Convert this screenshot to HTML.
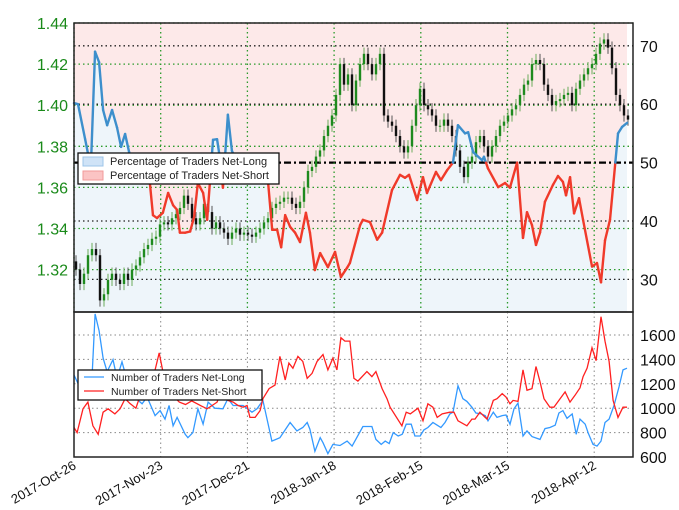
<!DOCTYPE html>
<html><head><meta charset="utf-8">
<style>
body{margin:0;background:#fff;}
svg{display:block;font-family:"Liberation Sans",sans-serif;}
</style></head>
<body>
<svg id="c" width="679" height="510" viewBox="0 0 679 510" xmlns="http://www.w3.org/2000/svg"></svg>
<script>
const pctDays=[0,1.3,3.6,4.5,5.5,6.8,8.1,9.4,10.7,12.3,13.9,15.2,16.5,17.8,19.7,22,24.5,25.5,26.8,28.7,30.4,32,33.3,34.2,35.9,37.5,38.8,40,41.7,43,44.9,46.2,47.2,48.1,49.7,51,53.6,56.8,60,62.7,64,65.6,66.9,68.2,69.8,71.4,73,74.9,76.2,77.8,79.5,82,84.3,86.2,88.2,89.1,92.4,93.3,95.6,97.9,99.5,102.7,105.3,106.9,108.2,110.8,112.7,114,116.9,118.5,120.5,122.4,124,126.3,127.3,128.9,131.8,132.4,133.7,137,139.2,140.8,143.1,145,146.3,147.9,149.2,150.5,152.1,154.7,156.3,157.9,158.9,160.2,161.5,163.1,164.4,167.3,168.9,170.2,171.5,173.1,175.7,177,178.6];
const pctLong=[60.2,60,54,51.6,50,69,67.2,59,56.4,59,56,52.7,54.9,51.8,49,48,46.5,41,40.5,41.4,44.8,42.7,41.9,38,38,38.2,40.7,46.5,44.8,40.2,53.9,54,50.5,45.7,58.2,52,49,47.5,48,46.5,38.5,38.5,35.5,41,39,38,36.4,41.4,38,31.6,34.5,32.1,34.7,30.4,32,32.8,39.3,40.2,39.8,36.8,38,45.3,47.9,47.4,47.9,43.6,47.5,44.8,48.4,47,48.7,50,56.4,55,55.2,51.8,50.4,51,49,45.8,46.5,45.7,50,37.1,41.5,39.3,35.9,38,43.3,46.2,47.7,46.7,44.4,47.5,41.3,43.9,40.2,32.2,32.8,29.5,36.7,40.2,55,56.1,56.8];
const closes=[1.32,1.313,1.318,1.327,1.33,1.327,1.305,1.308,1.315,1.318,1.315,1.313,1.318,1.315,1.32,1.322,1.326,1.33,1.332,1.335,1.336,1.342,1.343,1.342,1.345,1.347,1.35,1.356,1.352,1.345,1.342,1.345,1.352,1.348,1.34,1.343,1.34,1.338,1.335,1.338,1.34,1.337,1.338,1.337,1.336,1.338,1.34,1.343,1.345,1.35,1.352,1.353,1.355,1.355,1.352,1.35,1.353,1.36,1.368,1.37,1.375,1.378,1.385,1.39,1.395,1.405,1.42,1.41,1.415,1.40,1.412,1.42,1.425,1.42,1.415,1.42,1.425,1.395,1.392,1.39,1.385,1.38,1.377,1.38,1.39,1.40,1.408,1.40,1.398,1.395,1.39,1.39,1.393,1.39,1.385,1.378,1.37,1.365,1.372,1.375,1.382,1.385,1.38,1.375,1.38,1.385,1.39,1.392,1.395,1.398,1.40,1.405,1.41,1.412,1.42,1.422,1.42,1.41,1.405,1.40,1.402,1.403,1.405,1.406,1.40,1.408,1.412,1.415,1.418,1.42,1.425,1.43,1.432,1.428,1.418,1.405,1.40,1.395,1.393];
const longDays=[0,1.3,3.6,5.5,6.8,8.1,9.4,10.7,12.6,13.9,15.5,18,20,22,23.6,26.2,27.8,29.4,30.7,32,33.3,35.9,36.8,38.4,40,41.7,43.3,45.5,48.1,49.7,51.4,54.6,57.5,59.1,61,63.9,66.5,69.8,72,73.9,75.3,76.2,77.8,79.5,80.4,82,83.6,85.9,88.2,89.8,93.3,96.2,97.5,99.2,100.5,101.8,103.1,104.7,106,107.3,108.9,110.1,111.8,113,114.3,115.9,117.3,118.5,119.8,121.4,122.4,124,125.6,126.9,128.5,129.8,131.5,132.8,133.7,135.4,136.6,138.3,139.5,140.8,142.1,143.4,145,146.3,147.9,150.5,152.1,153.7,155.4,156.6,157.9,159.2,160.9,162.2,163.4,165.1,166.1,167.6,168.9,170.2,171.5,172.8,174.4,176,177.3,178.6];
const longCount=[1272,1203,1092,1080,1773,1634,1411,1300,1398,1245,1380,1150,1080,1036,1092,939,980,911,1022,856,925,786,758,800,995,870,1050,1000,995,1078,1022,1022,967,995,1064,730,758,883,814,842,883,828,647,758,717,628,703,694,730,689,850,850,744,703,730,711,800,772,786,869,869,772,772,822,842,883,861,842,883,953,967,1184,1078,1056,1008,961,953,939,897,967,925,939,944,869,995,1042,772,814,767,744,833,842,861,961,980,917,953,786,911,869,794,703,689,730,883,911,1022,1175,1314,1328];
const shortDays=[0,1,2.9,4.5,6.1,7.8,9.4,11,13.2,14.9,16.5,18,20,22,26.2,27.5,28.7,30,32,34,36,38,41,43,44.6,46.2,47.2,49.7,51.4,53,54.6,55.9,56.8,58.5,60.1,61,63,64.9,66.5,68.2,69.4,70.7,72.3,73.9,75.3,76.9,78.5,80.4,82,83.6,84.9,86.2,87.5,89.1,90.4,91.7,94.6,96.2,97.5,99.5,101.1,102.1,105.9,107.3,108.6,111.1,112.7,114.3,115.9,117.3,118.9,121.4,122.7,124,126.9,128.5,129.5,131.1,132.8,133.4,135.4,136.6,138.3,139.5,140.8,141.8,143.4,145,146.3,147.9,149.2,150.5,151.8,153.7,155,156.6,158.6,160.2,161.8,163.4,164.4,165.7,167.3,168.6,170.2,171.5,172.8,174.1,175.7,177.3,178.6];
const shortCount=[842,800,995,1050,856,786,967,995,953,995,1078,1040,1000,1150,1314,1453,1300,1200,1100,1050,1030,1060,1020,995,1022,1050,1120,1064,1050,1022,1008,1022,925,925,980,1078,1161,1189,1425,1231,1370,1328,1425,1384,1245,1286,1384,1439,1314,1411,1314,1578,1550,1550,1245,1222,1300,1259,1300,1161,1078,1008,856,967,953,1000,897,1036,1008,925,953,967,967,897,856,911,911,967,925,911,1064,1078,1120,1092,1036,1064,1056,1314,1147,1161,1342,1217,1078,1008,1008,1064,1134,1050,1106,1167,1259,1328,1495,1389,1750,1550,1384,1064,925,1008,1008];
const dateTicks=["2017-Oct-26","2017-Nov-23","2017-Dec-21","2018-Jan-18","2018-Feb-15","2018-Mar-15","2018-Apr-12"];
const dateTickDays=[0,28,56,84,112,140,168];
const priceTicks=[1.32,1.34,1.36,1.38,1.40,1.42,1.44];
const pctTicks=[30,40,50,60,70];
const countTicks=[600,800,1000,1200,1400,1600];

const L=74,R=633,T1=23,B1=312,T2=312,B2=457;
const xD=d=>L+d*86.7/28;
const yP=p=>T1+(1.44-p)/0.02*41.1;
const yPct=v=>162.6-(v-50)*5.84;
const yC=c=>457-(c-600)/200*24.4;
const svg=document.getElementById('c');
const NS='http://www.w3.org/2000/svg';
function mk(tag,attrs,parent){const e=document.createElementNS(NS,tag);for(const k in attrs)e.setAttribute(k,attrs[k]);(parent||svg).appendChild(e);return e;}

const topG=mk('g',{});


mk('rect',{x:L,y:T1,width:R-L,height:B1-T1,fill:'#fde9e9'},topG);
const pts=pctDays.map((d,i)=>[xD(d),yPct(pctLong[i])]);
const lineStr=pts.map(p=>p[0].toFixed(1)+','+p[1].toFixed(1)).join(' ');
const lastX=xD(pctDays[pctDays.length-1]);
const blueFill=mk('polygon',{points:L+','+B1+' '+lineStr+' '+lastX+','+B1,fill:'#eef5fa'},topG);


mk('rect',{x:lastX,y:T1,width:R-lastX,height:B1-T1,fill:'#fff'},topG);
priceTicks.forEach(p=>{mk('line',{x1:L,x2:R,y1:yP(p),y2:yP(p),stroke:'#2a9a2a','stroke-width':1.3,'stroke-dasharray':'1.5,3'},topG);
 const tx=mk('text',{x:68,y:yP(p)+6,'text-anchor':'end','font-size':16,fill:'#1a8a1a'},topG);tx.textContent=p.toFixed(2);
 
 });
pctTicks.forEach(v=>{if(v===50){mk('line',{x1:L,x2:R,y1:yPct(v),y2:yPct(v),stroke:'#000','stroke-width':2.2,'stroke-dasharray':'7,3,2,3'},topG);}
 else mk('line',{x1:L,x2:R,y1:yPct(v),y2:yPct(v),stroke:'#222','stroke-width':1.3,'stroke-dasharray':'1.5,3'},topG);
 const tx=mk('text',{x:640,y:yPct(v)+6,'font-size':16,fill:'#111'},topG);tx.textContent=v;
 
 });
dateTickDays.forEach(d=>{mk('line',{x1:xD(d),x2:xD(d),y1:T1,y2:B1,stroke:'#2a9a2a','stroke-width':1.3,'stroke-dasharray':'1.5,3'},topG);});
const cg=mk('g',{},topG);


const step=556/closes.length;
closes.forEach((c,i)=>{const o=i?closes[i-1]:c+0.004;const up=c>=o;const col=up?'#1e8a1e':'#111';
 const x=76+i*step;const hi=Math.max(o,c)+0.003,lo=Math.min(o,c)-0.003;
 mk('line',{x1:x,x2:x,y1:yP(hi),y2:yP(lo),stroke:up?'#6aaa5a':'#555','stroke-width':1},cg);
 const b=mk('rect',{x:x-1.2,y:yP(Math.max(o,c)),width:2.4,height:Math.max(1,Math.abs(yP(o)-yP(c))),fill:col},cg);
 
 });
const lg=mk('g',{},topG);


function seg(x1,y1,x2,y2,blue){mk('line',{x1:x1,y1:y1,x2:x2,y2:y2,stroke:blue?'#3d8fcc':'#f03a2a','stroke-width':2.4,'stroke-linecap':'round'},lg);}
for(let i=0;i<pts.length-1;i++){const a=pctLong[i],b=pctLong[i+1];
 if((a>=50)===(b>=50))seg(pts[i][0],pts[i][1],pts[i+1][0],pts[i+1][1],a>=50);
 else{const f=(50-a)/(b-a);const xm=pts[i][0]+f*(pts[i+1][0]-pts[i][0]);const ym=yPct(50);
  seg(pts[i][0],pts[i][1],xm,ym,a>=50);seg(xm,ym,pts[i+1][0],pts[i+1][1],b>=50);}}
mk('rect',{x:L,y:T1,width:R-L,height:B1-T1,fill:'none',stroke:'#222','stroke-width':1.5},topG);
const leg=mk('g',{},topG);


mk('rect',{x:78,y:153,width:201,height:31,fill:'#fff',stroke:'#111','stroke-width':1.3},leg);
mk('rect',{x:83,y:157,width:20,height:9,fill:'#cfe3f7',stroke:'#9cc4ea'},leg);
mk('rect',{x:83,y:171,width:20,height:9,fill:'#fbc4c4',stroke:'#f29a9a'},leg);
let tl=mk('text',{x:110,y:165,'font-size':11,fill:'#222'},leg);tl.textContent='Percentage of Traders Net-Long';
tl=mk('text',{x:110,y:179,'font-size':11,fill:'#222'},leg);tl.textContent='Percentage of Traders Net-Short';

const bot=mk('g',{});


countTicks.forEach(c=>{if(c>600)mk('line',{x1:L,x2:R,y1:yC(c),y2:yC(c),stroke:'#888','stroke-width':1,'stroke-dasharray':'1.5,3'},bot);
 const tx=mk('text',{x:640,y:yC(c)+6,'font-size':16,fill:'#111'},bot);tx.textContent=c;
 
 });
dateTickDays.forEach((d,i)=>{mk('line',{x1:xD(d),x2:xD(d),y1:T2,y2:B2,stroke:'#888','stroke-width':1,'stroke-dasharray':'1.5,3'},bot);
 const tx=mk('text',{x:xD(d)+3,y:468,'text-anchor':'end','font-size':13,fill:'#111',transform:'rotate(-30 '+(xD(d)+3)+' 468)'},bot);tx.textContent=dateTicks[i];
 
 });
const lp=mk('polyline',{points:longDays.map((d,i)=>xD(d).toFixed(1)+','+yC(longCount[i]).toFixed(1)).join(' '),fill:'none',stroke:'#3399ff','stroke-width':1.3},bot);


const sp=mk('polyline',{points:shortDays.map((d,i)=>xD(d).toFixed(1)+','+yC(shortCount[i]).toFixed(1)).join(' '),fill:'none',stroke:'#ff2020','stroke-width':1.3},bot);


mk('rect',{x:L,y:T2,width:R-L,height:B2-T2,fill:'none',stroke:'#222','stroke-width':1.5},bot);
const leg2=mk('g',{},bot);


mk('rect',{x:78,y:370,width:184,height:30,fill:'#fff',stroke:'#111','stroke-width':1.3},leg2);
mk('line',{x1:84,x2:104,y1:377,y2:377,stroke:'#3399ff','stroke-width':1.3},leg2);
mk('line',{x1:84,x2:104,y1:391,y2:391,stroke:'#ff2020','stroke-width':1.3},leg2);
tl=mk('text',{x:111,y:381,'font-size':10.5,fill:'#222'},leg2);tl.textContent='Number of Traders Net-Long';
tl=mk('text',{x:111,y:395,'font-size':10.5,fill:'#222'},leg2);tl.textContent='Number of Traders Net-Short';
</script>
</body></html>
